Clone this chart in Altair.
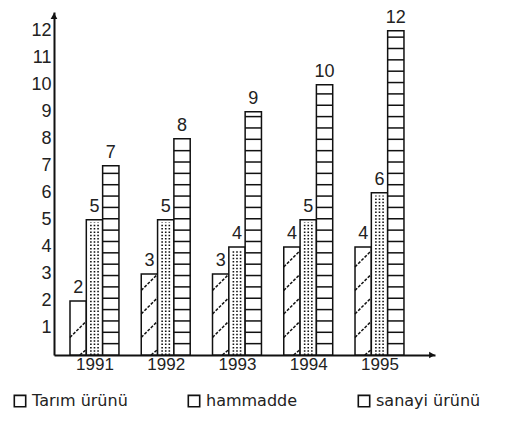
import altair as alt
import pandas as pd

years = ["1991", "1992", "1993", "1994", "1995"]
series = ["Tarım ürünü", "hammadde", "sanayi ürünü"]
tarim = [2, 3, 3, 4, 4]
hammadde = [5, 5, 4, 5, 6]
sanayi = [7, 8, 9, 10, 12]

W = 0.229  # bar width in group units
values = {"Tarım ürünü": tarim, "hammadde": hammadde, "sanayi ürünü": sanayi}

rows = []
for i, yr in enumerate(years):
    for j, s in enumerate(series):
        x0 = i + (j - 1) * W - W / 2
        rows.append({"year": yr, "series": s, "x": x0, "x2": x0 + W,
                     "xc": x0 + W / 2, "value": values[s][i]})
bars = pd.DataFrame(rows)

# texture lines derived from the bars
stripes, diags, dots = [], [], []
for r in rows:
    if r["series"] == "sanayi ürünü":
        k = 1
        while k * 0.42 < r["value"] - 0.05:
            stripes.append({"x": r["x"], "x2": r["x2"], "y": k * 0.42})
            k += 1
    elif r["series"] == "Tarım ürünü":
        k = 0
        while 0.65 + 0.87 * k + 0.5 < r["value"] - 0.05:
            y0 = 0.65 + 0.87 * k
            diags.append({"x": r["x"], "x2": r["x2"], "y": y0, "y2": y0 + 0.6})
            k += 1
        diags.append({"x": r["x"] + W * 0.6, "x2": r["x2"], "y": 0.0, "y2": 0.2})
    else:
        for f in (0.28, 0.5, 0.72):
            dots.append({"x": r["x"] + W * f, "y": 0, "y2": r["value"] - 0.1})
stripes = pd.DataFrame(stripes)
diags = pd.DataFrame(diags)
dots = pd.DataFrame(dots)

FONT = "Liberation Sans"
xs = alt.Scale(domain=[-0.568, 4.779], nice=False, zero=False)
ys = alt.Scale(domain=[0, 12.69], nice=False, zero=True)
label_expr = "[" + ",".join("'%s'" % y for y in years) + "][datum.value]"

ax_x = alt.Axis(values=list(range(len(years))), labelExpr=label_expr, ticks=False,
                grid=False, domainColor="#111", domainWidth=2, labelFontSize=17,
                labelFont=FONT, labelColor="#222", labelPadding=1, labelFlush=False,
                labelOverlap=False, title=None)
ax_y = alt.Axis(values=list(range(1, 13)), ticks=False, grid=False, domainColor="#111",
                domainWidth=2, labelFontSize=18, labelFont=FONT, labelColor="#222",
                labelPadding=3, labelFlush=False, labelOverlap=False, title=None)

base_bars = alt.Chart(bars).mark_rect(fill="white", strokeWidth=1.5).encode(
    x=alt.X("x:Q", scale=xs, axis=ax_x),
    x2="x2:Q",
    y=alt.Y("value:Q", scale=ys, axis=ax_y),
    y2=alt.datum(0),
    stroke=alt.Stroke("series:N",
                      scale=alt.Scale(domain=series, range=["#111", "#111", "#111"]),
                      legend=alt.Legend(title=None, orient="none", legendX=-42, legendY=381,
                                        direction="horizontal", symbolType="square",
                                        symbolSize=130, symbolFillColor="white",
                                        symbolStrokeWidth=1.6, labelFont="DejaVu Sans",
                                        labelFontSize=16, labelColor="#222",
                                        columnPadding=57, labelOffset=4)),
)

stripe_layer = alt.Chart(stripes).mark_rule(color="#111", strokeWidth=1.5).encode(
    x=alt.X("x:Q", scale=xs, axis=ax_x), x2="x2:Q",
    y=alt.Y("y:Q", scale=ys, axis=ax_y))

diag_layer = alt.Chart(diags).mark_rule(color="#111", strokeWidth=1.5, strokeDash=[3, 1.5]).encode(
    x=alt.X("x:Q", scale=xs, axis=ax_x), x2="x2:Q",
    y=alt.Y("y:Q", scale=ys, axis=ax_y), y2="y2:Q")

dot_layer = alt.Chart(dots).mark_rule(color="#111", strokeWidth=1.6, strokeDash=[1.5, 1.8]).encode(
    x=alt.X("x:Q", scale=xs, axis=ax_x),
    y=alt.Y("y:Q", scale=ys, axis=ax_y), y2="y2:Q")

text_layer = alt.Chart(bars).mark_text(baseline="bottom", dy=-4, fontSize=18, font=FONT,
                                       color="#222").encode(
    x=alt.X("xc:Q", scale=xs, axis=ax_x),
    y=alt.Y("value:Q", scale=ys, axis=ax_y),
    text="value:Q")

arrow_up = alt.Chart(pd.DataFrame({"a": [0]})).mark_point(
    shape="triangle-up", filled=True, size=45, color="#111", opacity=1).encode(
    x=alt.value(0), y=alt.value(4))
arrow_right = alt.Chart(pd.DataFrame({"a": [0]})).mark_point(
    shape="triangle-right", filled=True, size=45, color="#111", opacity=1).encode(
    x=alt.value(378), y=alt.value(343))

chart = alt.layer(base_bars, stripe_layer, diag_layer, dot_layer, text_layer,
                  arrow_up, arrow_right).properties(
    width=381, height=343, padding={"left": 4, "top": 0, "right": 0, "bottom": 0},
    background="white"
).configure_view(stroke=None)

chart.save("out.html", embed_options={"renderer": "svg", "actions": False})
